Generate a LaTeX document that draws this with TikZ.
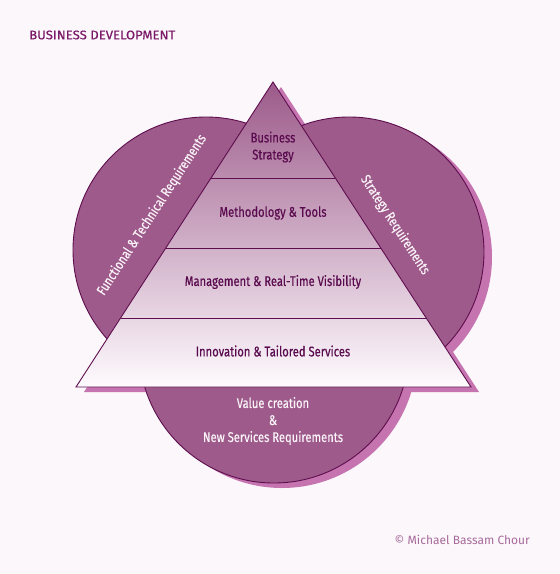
\documentclass[tikz,border=0pt]{standalone}
\usepackage{fontspec}
\setmainfont[FakeStretch=0.80, FakeBold=0.35]{Fira Sans}
\newfontfamily\titlefont[FakeStretch=1.05, FakeBold=0.6]{Fira Sans}
\newfontfamily\creditfont[FakeStretch=1.0]{Fira Sans}
\usetikzlibrary{calc}
\definecolor{bgc}{HTML}{FBF7FB}
\definecolor{circc}{HTML}{9E5A8A}
\definecolor{shadc}{HTML}{C674B0}
\definecolor{linec}{HTML}{5E0E4E}
\definecolor{bandtc}{HTML}{5A0A4E}
\definecolor{circtc}{HTML}{FAF3F8}
\definecolor{titlec}{HTML}{7B1A68}
\definecolor{copyc}{HTML}{A86A9A}
\definecolor{tritop}{HTML}{9C5A8A}
\definecolor{tribot}{HTML}{FEFBFE}
\tikzset{
  circfill/.style={fill=circc, draw=linec, line width=0.9pt},
  shadowfill/.style={fill=shadc},
  outline/.style={draw=linec, line width=0.9pt},
  bandtext/.style={text=bandtc, font=\fontsize{14}{17}\selectfont, align=center, inner sep=0pt},
  circtext/.style={text=circtc, font=\fontsize{14}{17}\selectfont, align=center, inner sep=0pt},
}
\begin{document}
\begin{tikzpicture}[x=1pt,y=-1pt]
\fill[bgc] (0,0) rectangle (560,574);
\useasboundingbox (0,0) rectangle (560,574);
% key points
\coordinate (A) at (273,82);
\coordinate (BL) at (76,387);
\coordinate (BR) at (471,387);
\coordinate (cl) at (206,250);
\coordinate (cr) at (349,252);
\coordinate (cb) at (274,348);
\coordinate (off) at (8,5);
% shadows
\fill[shadowfill] ($(cl)+(off)$) circle[radius=133pt];
\fill[shadowfill] ($(cr)+(off)$) circle[radius=135pt];
\fill[shadowfill] ($(cb)+(off)$) circle[radius=135pt];
\fill[shadowfill] ($(A)+(off)$) -- ($(BL)+(off)$) -- ($(BR)+(off)$) -- cycle;
% circles
\path[circfill] (cl) circle[radius=133pt];
\path[circfill] (cr) circle[radius=135pt];
\path[circfill] (cb) circle[radius=135pt];
% pyramid
\shade[top color=tritop, bottom color=tribot] (A) -- (BL) -- (BR) -- cycle;
\coordinate (l1) at ($(A)!0.3148!(BL)$);
\coordinate (r1) at ($(A)!0.3148!(BR)$);
\coordinate (l2) at ($(A)!0.5443!(BL)$);
\coordinate (r2) at ($(A)!0.5443!(BR)$);
\coordinate (l3) at ($(A)!0.7738!(BL)$);
\coordinate (r3) at ($(A)!0.7738!(BR)$);
\draw[outline] (l1) -- (r1);
\draw[outline] (l2) -- (r2);
\draw[outline] (l3) -- (r3);
\draw[outline, line join=miter] (A) -- (BL) -- (BR) -- cycle;
% band texts
\node[bandtext] (t1) at (273,147) {Business\\Strategy};
\node[bandtext] (t2) at (273,213) {Methodology \& Tools};
\node[bandtext] (t3) at (273,282) {Management \& Real-Time Visibility};
\node[bandtext] (t4) at (273,351) {Innovation \& Tailored Services};
% circle texts
\node[circtext] (c3) at (273,421) {Value creation\\\&\\New Services Requirements};
\node[circtext, rotate=57] (c1) at (152,215) {Functional \& Technical Requirements};
\node[circtext, rotate=-57] (c2) at (395,225) {Strategy Requirements};
% title and credit
\node[text=titlec, font=\titlefont\fontsize{12.5}{15}\selectfont, anchor=west, inner sep=0pt] (title) at (29,35) {BUSINESS DEVELOPMENT};
\node[text=copyc, font=\creditfont\fontsize{12}{14}\selectfont, anchor=east, inner sep=0pt] (copy) at (530,540) {© Michael Bassam Chour};
\end{tikzpicture}
\end{document}
